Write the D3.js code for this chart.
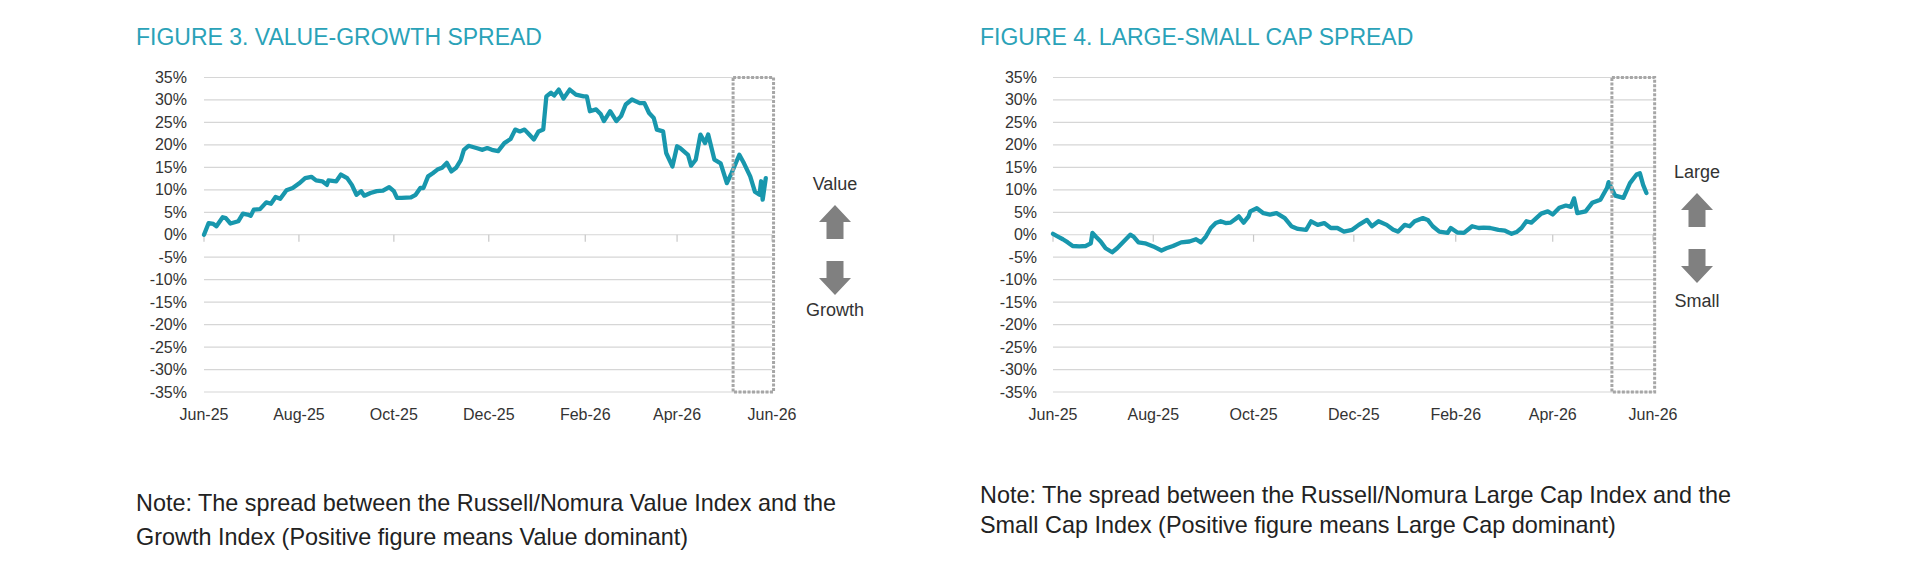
<!DOCTYPE html>
<html><head><meta charset="utf-8">
<script src="https://cdn.jsdelivr.net/npm/d3@7"></script>
<style>body{margin:0;background:#fff}svg{display:block}text{font-family:"Liberation Sans",Arial,sans-serif}</style>
</head><body><svg id="c" width="1920" height="584"></svg>
<script>
const tickLabels = ["Jun-25","Aug-25","Oct-25","Dec-25","Feb-26","Apr-26","Jun-26"];
const tickDates = ["2025-06-01","2025-08-01","2025-10-01","2025-12-01","2026-02-01","2026-04-01","2026-06-01"];
const yTicks = [35,30,25,20,15,10,5,0,-5,-10,-15,-20,-25,-30,-35];
const highlight = ["2026-05-07","2026-06-02"];

const vgDates = ["2025-06-01","2025-06-04","2025-06-07","2025-06-09","2025-06-13","2025-06-15","2025-06-18","2025-06-23","2025-06-26","2025-06-29",
"2025-07-01","2025-07-03","2025-07-07","2025-07-11","2025-07-14","2025-07-17","2025-07-20","2025-07-24","2025-07-28",
"2025-08-01","2025-08-05","2025-08-09","2025-08-12","2025-08-16","2025-08-19","2025-08-20","2025-08-25","2025-08-28",
"2025-09-01","2025-09-04","2025-09-07","2025-09-10","2025-09-12","2025-09-16","2025-09-20","2025-09-24","2025-09-28",
"2025-10-01","2025-10-03","2025-10-06","2025-10-12","2025-10-15","2025-10-18","2025-10-20","2025-10-23","2025-10-26","2025-10-29",
"2025-11-01","2025-11-04","2025-11-07","2025-11-10","2025-11-13","2025-11-15","2025-11-18","2025-11-23","2025-11-27","2025-11-30",
"2025-12-03","2025-12-07","2025-12-11","2025-12-15","2025-12-18","2025-12-21","2025-12-24","2025-12-27","2025-12-30",
"2026-01-02","2026-01-05","2026-01-07","2026-01-10","2026-01-12","2026-01-15","2026-01-18","2026-01-22","2026-01-26","2026-01-31",
"2026-02-02","2026-02-04","2026-02-08","2026-02-11","2026-02-13","2026-02-17","2026-02-21","2026-02-24","2026-02-27",
"2026-03-03","2026-03-08","2026-03-11","2026-03-14","2026-03-17","2026-03-19","2026-03-23","2026-03-25","2026-03-29",
"2026-04-01","2026-04-03","2026-04-08","2026-04-10","2026-04-13","2026-04-16","2026-04-19","2026-04-21","2026-04-25","2026-04-29",
"2026-05-03","2026-05-06","2026-05-11","2026-05-14","2026-05-18","2026-05-21","2026-05-24","2026-05-25","2026-05-26","2026-05-28"];
const vgValues = [0.0,2.6,2.4,1.9,3.9,3.7,2.5,3.0,4.7,4.5,
4.2,5.6,5.7,7.2,6.9,8.4,8.0,9.9,10.4,
11.4,12.6,12.9,12.1,11.9,11.1,12.1,11.9,13.4,
12.6,11.1,8.9,9.7,8.7,9.3,9.7,9.8,10.6,
9.7,8.2,8.2,8.3,8.9,10.4,10.4,13.0,13.7,14.5,
14.9,16.0,14.1,14.9,16.6,18.9,19.8,19.3,18.9,19.3,
18.9,18.6,20.4,21.3,23.4,23.0,23.4,22.3,21.2,
23.0,23.4,30.8,31.6,31.0,32.3,30.3,32.3,31.2,30.8,
30.8,27.5,27.9,26.8,25.3,27.5,25.3,26.4,29.0,
30.1,29.3,29.3,27.1,26.0,23.4,23.0,18.2,15.2,
19.7,19.3,17.8,15.4,16.7,22.3,20.4,22.3,16.7,15.9,
11.5,13.7,17.8,15.9,13.0,9.6,8.9,11.9,7.8,12.6];

const lsDates = ["2025-06-01","2025-06-04","2025-06-07","2025-06-10","2025-06-13","2025-06-17","2025-06-21","2025-06-24","2025-06-25","2025-06-27","2025-06-30",
"2025-07-03","2025-07-07","2025-07-10","2025-07-14","2025-07-18","2025-07-20","2025-07-23","2025-07-27",
"2025-08-01","2025-08-06","2025-08-09","2025-08-13","2025-08-18","2025-08-23","2025-08-27","2025-08-30",
"2025-09-02","2025-09-05","2025-09-08","2025-09-11","2025-09-14","2025-09-17","2025-09-20","2025-09-22","2025-09-25","2025-09-28","2025-09-29",
"2025-10-03","2025-10-07","2025-10-11","2025-10-15","2025-10-20","2025-10-24","2025-10-28",
"2025-11-02","2025-11-05","2025-11-09","2025-11-13","2025-11-17","2025-11-21","2025-11-25","2025-11-30",
"2025-12-04","2025-12-09","2025-12-12","2025-12-16","2025-12-21","2025-12-25","2025-12-28",
"2026-01-01","2026-01-04","2026-01-07","2026-01-12","2026-01-15","2026-01-18","2026-01-22","2026-01-27","2026-01-29",
"2026-02-02","2026-02-06","2026-02-11","2026-02-15","2026-02-18","2026-02-22","2026-02-27",
"2026-03-03","2026-03-07","2026-03-10","2026-03-13","2026-03-16","2026-03-19","2026-03-22","2026-03-25","2026-03-29",
"2026-04-01","2026-04-05","2026-04-09","2026-04-12","2026-04-14","2026-04-16","2026-04-21","2026-04-25","2026-04-30",
"2026-05-04","2026-05-05","2026-05-09","2026-05-14","2026-05-18","2026-05-22","2026-05-24","2026-05-26","2026-05-28"];
const lsValues = [0.2,-0.4,-1.0,-1.7,-2.5,-2.6,-2.5,-1.9,0.4,-0.4,-1.5,
-3.0,-3.9,-3.0,-1.5,0.0,-0.4,-1.7,-1.9,
-2.6,-3.5,-3.0,-2.5,-1.7,-1.5,-1.0,-1.7,
-0.4,1.5,2.6,3.0,2.6,2.7,3.5,4.1,2.7,4.1,5.2,
5.9,4.8,4.5,4.8,3.7,1.9,1.3,
1.1,3.0,2.2,2.6,1.5,1.5,0.7,1.1,
2.2,3.3,1.9,3.0,2.2,1.1,0.7,
2.2,1.9,3.0,3.7,3.3,1.9,0.7,0.4,1.5,
0.5,0.4,1.9,1.5,1.6,1.5,1.1,
0.9,0.2,0.6,1.5,3.0,2.7,3.7,4.7,5.2,
4.5,6.0,6.5,6.2,8.1,4.8,5.2,7.1,7.8,
10.4,11.7,8.7,8.2,11.5,13.4,13.7,11.1,9.3];

const parse = d3.timeParse("%Y-%m-%d");
const svg = d3.select("#c");
svg.append("rect").attr("width",1920).attr("height",584).attr("fill","#fff");

const TEAL = "#1897ad";
const panels = [
  {title:"FIGURE 3. VALUE-GROWTH SPREAD", x0:204, x1:772, titleX:136, labelX:187,
   dates:vgDates, values:vgValues, up:"Value", down:"Growth", arrowX:835,
   upLabelY:190, upArrowY:205, downArrowY:261, downLabelY:316,
   note:["Note: The spread between the Russell/Nomura Value Index and the","Growth Index (Positive figure means Value dominant)"], noteY:511, noteGap:34},
  {title:"FIGURE 4. LARGE-SMALL CAP SPREAD", x0:1053, x1:1653, titleX:980, labelX:1037,
   dates:lsDates, values:lsValues, up:"Large", down:"Small", arrowX:1697,
   upLabelY:178, upArrowY:193, downArrowY:249, downLabelY:307,
   note:["Note: The spread between the Russell/Nomura Large Cap Index and the","Small Cap Index (Positive figure means Large Cap dominant)"], noteY:503, noteGap:30}
];

panels.forEach(p => {
  const g = svg.append("g");
  const x = d3.scaleTime().domain([parse(tickDates[0]), parse(tickDates[tickDates.length-1])]).range([p.x0, p.x1]);
  const y = d3.scaleLinear().domain([-35,35]).range([392,77.5]);

  g.append("text").attr("x",p.titleX).attr("y",45).attr("font-size",23).attr("fill","#2aa2b8").text(p.title);

  g.selectAll("line.grid").data(yTicks).join("line")
    .attr("x1",p.x0).attr("x2",p.x1).attr("y1",d=>y(d)).attr("y2",d=>y(d))
    .attr("stroke","#d6d6d6").attr("stroke-width",1.2);
  g.selectAll("text.yl").data(yTicks).join("text")
    .attr("x",p.labelX).attr("y",d=>y(d)+5.5).attr("text-anchor","end")
    .attr("font-size",16).attr("fill","#333").text(d=>d+"%");
  g.selectAll("line.tk").data(tickDates).join("line")
    .attr("x1",d=>x(parse(d))).attr("x2",d=>x(parse(d))).attr("y1",y(0)).attr("y2",y(0)+7)
    .attr("stroke","#c8c8c8").attr("stroke-width",1.2);
  g.selectAll("text.xl").data(tickDates).join("text")
    .attr("x",d=>x(parse(d))).attr("y",420).attr("text-anchor","middle")
    .attr("font-size",16).attr("fill","#333").text((d,i)=>tickLabels[i]);

  const pts = p.dates.map((d,i)=>({d:parse(d), v:p.values[i]}));
  g.append("path").datum(pts)
    .attr("d", d3.line().x(d=>x(d.d)).y(d=>y(d.v)))
    .attr("fill","none").attr("stroke",TEAL).attr("stroke-width",4.3)
    .attr("stroke-linejoin","round").attr("stroke-linecap","round");

  const bx0 = x(parse(highlight[0])), bx1 = x(parse(highlight[1]));
  g.append("rect").attr("x",bx0).attr("y",y(35)).attr("width",bx1-bx0).attr("height",y(-35)-y(35))
    .attr("fill","none").attr("stroke","#a6a6a6").attr("stroke-width",3).attr("stroke-dasharray","3,1.5");

  const ax = p.arrowX;
  const up = (t)=>`M${ax},${t} L${ax+16},${t+17} L${ax+8.5},${t+17} L${ax+8.5},${t+34} L${ax-8.5},${t+34} L${ax-8.5},${t+17} L${ax-16},${t+17} Z`;
  const dn = (t)=>`M${ax-8.5},${t} L${ax+8.5},${t} L${ax+8.5},${t+17} L${ax+16},${t+17} L${ax},${t+34} L${ax-16},${t+17} L${ax-8.5},${t+17} Z`;
  g.append("path").attr("d",up(p.upArrowY)).attr("fill","#808080");
  g.append("path").attr("d",dn(p.downArrowY)).attr("fill","#808080");
  g.append("text").attr("x",ax).attr("y",p.upLabelY).attr("text-anchor","middle").attr("font-size",18).attr("fill","#333").text(p.up);
  g.append("text").attr("x",ax).attr("y",p.downLabelY).attr("text-anchor","middle").attr("font-size",18).attr("fill","#333").text(p.down);

  p.note.forEach((t,i)=>{
    g.append("text").attr("x",p.titleX).attr("y",p.noteY+i*p.noteGap).attr("font-size",23.4).attr("fill","#222").text(t);
  });
});
</script></body></html>
